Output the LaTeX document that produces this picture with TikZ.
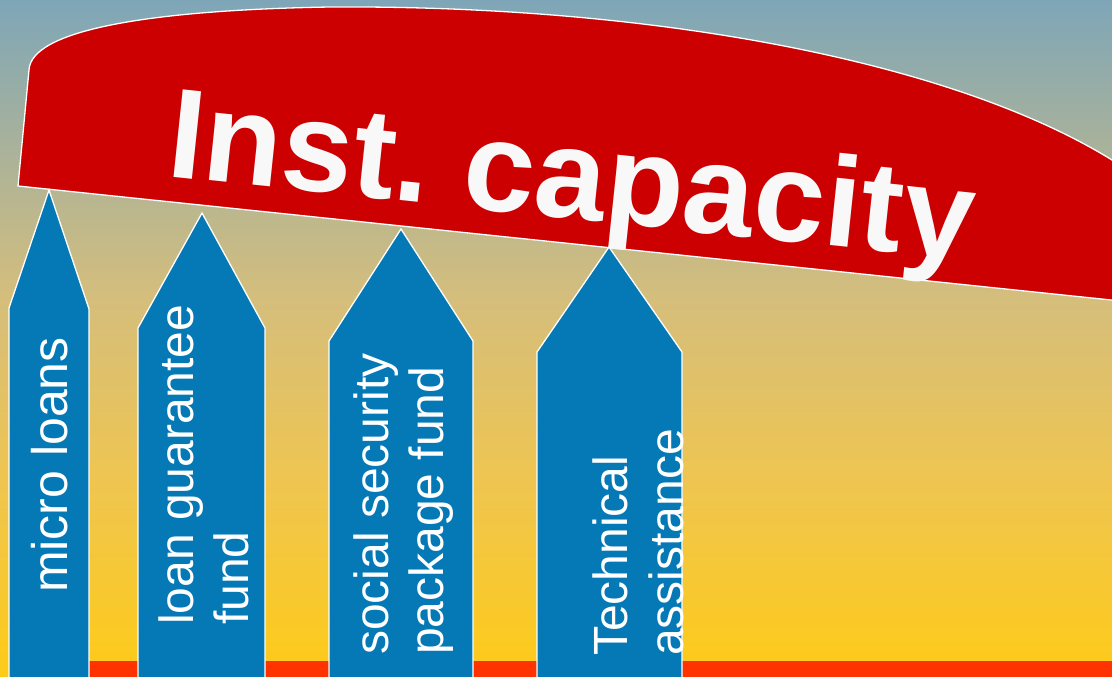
\documentclass[tikz,border=0pt]{standalone}
\usepackage{fontspec}
\setmainfont{Liberation Sans}
\definecolor{bgtop}{HTML}{7EA6B8}
\definecolor{bgmid}{HTML}{D5BE7C}
\definecolor{bgmid2}{HTML}{EEC552}
\definecolor{bgbot}{HTML}{FECB18}
\definecolor{capred}{HTML}{CC0000}
\definecolor{bandred}{HTML}{FF3300}
\definecolor{pillar}{HTML}{0479B6}
\definecolor{titlewhite}{HTML}{F8F8F8}
\pgfdeclareverticalshading{bgshade}{100bp}{color(0bp)=(bgbot); color(25bp)=(bgbot); color(40bp)=(bgmid2); color(53bp)=(bgmid); color(75bp)=(bgtop); color(100bp)=(bgtop)}
\tikzset{
  pillarshape/.style={fill=pillar, draw=white, line width=1.3pt, line join=miter},
  pillartext/.style={rotate=90, anchor=north west, inner sep=0pt, align=left, text=white,
     font=\fontsize{48}{55}\selectfont},
  capshape/.style={fill=capred, draw=white, line width=1.3pt},
}
\begin{document}
\begin{tikzpicture}[x=1pt,y=-1pt]
\useasboundingbox (0,0) rectangle (1112,677);
\path[clip] (0,0) rectangle (1112,677);
% background
\path[shading=bgshade] (0,0) rectangle (1112,677);
% bottom band
\fill[bandred] (89,661) rectangle (1112,678);
% capacity roof
\draw[capshape] (18,186) -- (29,70) .. controls (31,30) and (150,10) .. (330,7)
   .. controls (650,5) and (950,60) .. (1112,160) -- (1140,180) -- (1140,303) -- cycle;
\node[rotate=-6, anchor=base west, inner sep=0pt, text=titlewhite,
      font=\fontsize{128}{140}\selectfont\bfseries] (title) at (165,176)
      {\spaceskip=22pt Inst. capacity};
% pillars
\draw[pillarshape] (9,680) -- (9,308) -- (49,190) -- (89,309) -- (89,680);
\draw[pillarshape] (138,680) -- (138,328) -- (202,213) -- (265,328) -- (265,680);
\draw[pillarshape] (329,680) -- (329,341) -- (401,229) -- (473,341) -- (473,680);
\draw[pillarshape] (537,680) -- (537,352) -- (609,247) -- (682,352) -- (682,680);
% pillar labels
\node[pillartext, font=\fontsize{50}{57}\selectfont] (p1) at (31,593) {micro loans};
\node[pillartext] (p2) at (159,625) {loan guarantee\\fund};
\node[pillartext] (p3) at (354,655) {social security\\package fund};
\node[pillartext, font=\fontsize{48}{56}\selectfont] (p4) at (593,656) {Technical\\assistance};
\end{tikzpicture}
\end{document}
